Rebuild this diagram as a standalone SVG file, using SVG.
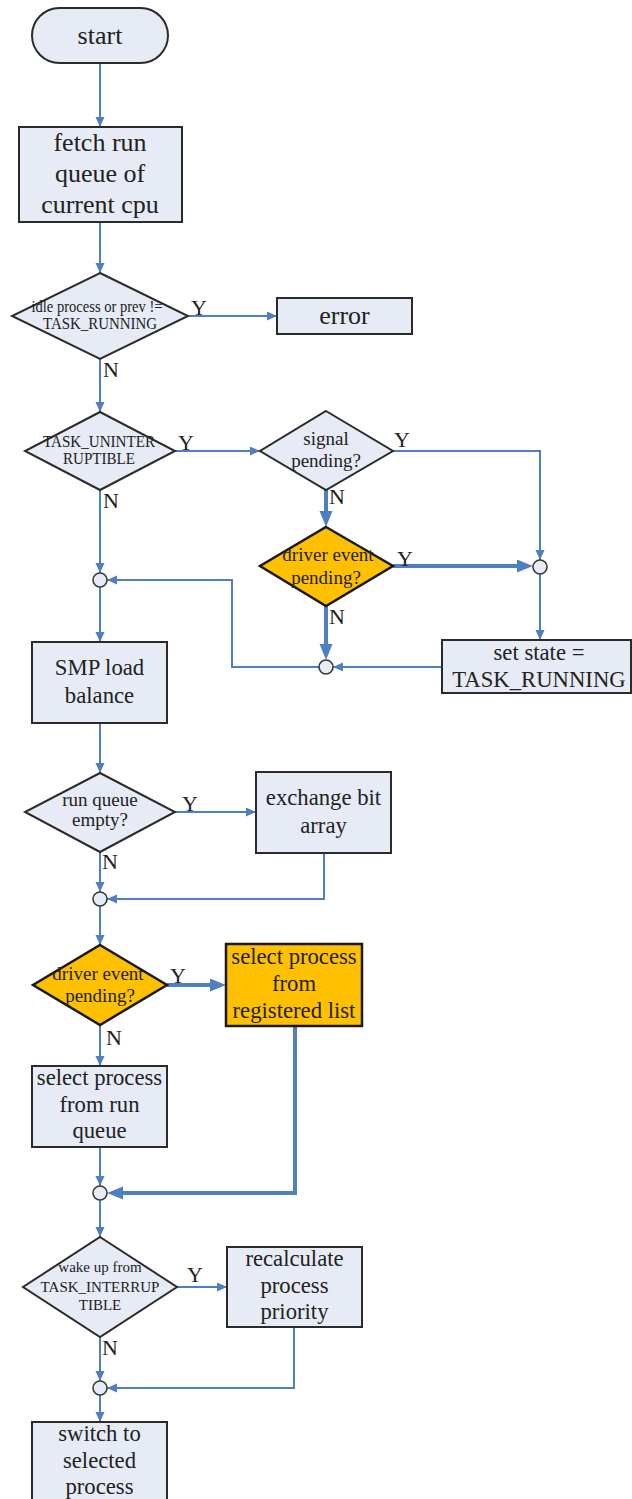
<svg xmlns="http://www.w3.org/2000/svg" width="632" height="1499" viewBox="0 0 632 1499">
  <style>
    .box { fill: #e6ebf5; stroke: #2b2b2b; stroke-width: 2; }
    .hot { fill: #ffc000; stroke: #1a1a1a; stroke-width: 2.5; }
    .join { fill: #e6ebf5; stroke: #3a3a3a; stroke-width: 1.6; }
    .t { font-family: "Liberation Serif", "Times New Roman", serif; fill: #222; text-anchor: middle; }
    .big { font-size: 26px; }
    .mid { font-size: 22.7px; }
    .dia { font-size: 19px; }
    .sm { font-size: 16px; }
    .xs { font-size: 15px; }
    .lab { font-family: "Liberation Serif", "Times New Roman", serif; fill: #222; font-size: 22px; }
    .wire { fill: none; stroke: #4f7fc0; stroke-width: 2; }
    .wire-b { fill: none; stroke: #4f7fc0; stroke-width: 4; }
  </style>
  <defs>
    <marker id="ah" markerUnits="userSpaceOnUse" markerWidth="11" markerHeight="10" refX="10" refY="4.5" orient="auto">
      <path d="M0,0 L10,4.5 L0,9 z" fill="#4f7fc0"/>
    </marker>
    <marker id="ahb" markerUnits="userSpaceOnUse" markerWidth="17" markerHeight="14" refX="10" refY="6.5" orient="auto">
      <path d="M0,0 L16,6.5 L0,13 z" fill="#4f7fc0"/>
    </marker>
  </defs>

  <rect width="632" height="1499" fill="#ffffff"/>

  <!-- connectors -->
  <g id="connectors">
    <path class="wire" d="M100,63 V127" marker-end="url(#ah)"/>
    <path class="wire" d="M100,222 V273" marker-end="url(#ah)"/>
    <path class="wire" d="M188,316 H277" marker-end="url(#ah)"/>
    <path class="wire" d="M100,359 V412" marker-end="url(#ah)"/>
    <path class="wire" d="M175,451 H260" marker-end="url(#ah)"/>
    <path class="wire" d="M393,451 H540 V560" marker-end="url(#ah)"/>
    <path class="wire-b" d="M326,490 V521" marker-end="url(#ahb)"/>
    <path class="wire-b" d="M393,566 H527" marker-end="url(#ahb)"/>
    <path class="wire" d="M540,574 V640" marker-end="url(#ah)"/>
    <path class="wire-b" d="M326,606 V654" marker-end="url(#ahb)"/>
    <path class="wire" d="M442,667 H333" marker-end="url(#ah)"/>
    <path class="wire" d="M319,667 H232 V580 H107" marker-end="url(#ah)"/>
    <path class="wire" d="M100,490 V573" marker-end="url(#ah)"/>
    <path class="wire" d="M100,587 V642" marker-end="url(#ah)"/>
    <path class="wire" d="M100,723 V773" marker-end="url(#ah)"/>
    <path class="wire" d="M175,812 H256" marker-end="url(#ah)"/>
    <path class="wire" d="M100,852 V892" marker-end="url(#ah)"/>
    <path class="wire" d="M324,853 V899 H107" marker-end="url(#ah)"/>
    <path class="wire" d="M100,906 V945" marker-end="url(#ah)"/>
    <path class="wire-b" d="M167,985 H220" marker-end="url(#ahb)"/>
    <path class="wire" d="M100,1025 V1066" marker-end="url(#ah)"/>
    <path class="wire" d="M100,1147 V1186" marker-end="url(#ah)"/>
    <path class="wire-b" d="M295,1026 V1193 H113" marker-end="url(#ahb)"/>
    <path class="wire" d="M100,1200 V1237" marker-end="url(#ah)"/>
    <path class="wire" d="M177,1287 H227" marker-end="url(#ah)"/>
    <path class="wire" d="M100,1337 V1381" marker-end="url(#ah)"/>
    <path class="wire" d="M294,1327 V1388 H107" marker-end="url(#ah)"/>
    <path class="wire" d="M100,1395 V1422" marker-end="url(#ah)"/>
  </g>

  <!-- junction points -->
  <g id="joins">
    <circle class="join" cx="540" cy="567" r="7"/>
    <circle class="join" cx="326" cy="667" r="7"/>
    <circle class="join" cx="100" cy="580" r="7"/>
    <circle class="join" cx="100" cy="899" r="7"/>
    <circle class="join" cx="100" cy="1193" r="7"/>
    <circle class="join" cx="100" cy="1388" r="7"/>
  </g>

  <g id="start">
    <rect class="box" x="32" y="8" width="136" height="55" rx="27.5"/>
    <text class="t big" x="100" y="44">start</text>
  </g>

  <g id="fetch">
    <rect class="box" x="19" y="127" width="163" height="95"/>
    <text class="t big" x="100" y="151">fetch run</text>
    <text class="t big" x="100" y="182">queue of</text>
    <text class="t big" x="100" y="213">current cpu</text>
  </g>

  <g id="check-idle">
    <polygon class="box" points="100,273 188,316 100,359 12,316"/>
    <text class="t sm" x="97" y="312" textLength="131" lengthAdjust="spacingAndGlyphs">idle process or prev !=</text>
    <text class="t sm" x="100" y="329" textLength="114" lengthAdjust="spacingAndGlyphs">TASK_RUNNING</text>
    <text class="lab" x="191" y="315">Y</text>
    <text class="lab" x="103" y="377">N</text>
  </g>

  <g id="error">
    <rect class="box" x="277" y="298" width="135" height="36"/>
    <text class="t big" x="344.5" y="324">error</text>
  </g>

  <g id="check-unint">
    <polygon class="box" points="100,412 175,451 100,490 25,451"/>
    <text class="t sm" x="99" y="447" textLength="112" lengthAdjust="spacingAndGlyphs">TASK_UNINTER</text>
    <text class="t sm" x="99" y="464" textLength="72" lengthAdjust="spacingAndGlyphs">RUPTIBLE</text>
    <text class="lab" x="178" y="450">Y</text>
    <text class="lab" x="103" y="508">N</text>
  </g>

  <g id="signal">
    <polygon class="box" points="326,411 393,451 326,490 260,451"/>
    <text class="t dia" x="326" y="445">signal</text>
    <text class="t dia" x="326" y="467">pending?</text>
    <text class="lab" x="394" y="447">Y</text>
    <text class="lab" x="329" y="504">N</text>
  </g>

  <g id="driver-event-1">
    <polygon class="hot" points="326,527 393,566 326,606 260,566"/>
    <text class="t dia" x="328" y="561">driver event</text>
    <text class="t dia" x="326" y="584">pending?</text>
    <text class="lab" x="397" y="566">Y</text>
    <text class="lab" x="329" y="624">N</text>
  </g>

  <g id="set-state">
    <rect class="box" x="442" y="640" width="189" height="53"/>
    <text class="t mid" x="539" y="660">set state =</text>
    <text class="t mid" x="539" y="687">TASK_RUNNING</text>
  </g>

  <g id="smp">
    <rect class="box" x="32" y="642" width="135" height="81"/>
    <text class="t mid" x="99.5" y="675">SMP load</text>
    <text class="t mid" x="99.5" y="703">balance</text>
  </g>

  <g id="queue-empty">
    <polygon class="box" points="100,773 175,812 100,852 25,812"/>
    <text class="t dia" x="100" y="806">run queue</text>
    <text class="t dia" x="100" y="826">empty?</text>
    <text class="lab" x="182" y="811">Y</text>
    <text class="lab" x="102" y="869">N</text>
  </g>

  <g id="exchange">
    <rect class="box" x="256" y="772" width="135" height="81"/>
    <text class="t mid" x="323.5" y="805">exchange bit</text>
    <text class="t mid" x="323.5" y="833">array</text>
  </g>

  <g id="driver-event-2">
    <polygon class="hot" points="100,945 167,985 100,1025 33,985"/>
    <text class="t dia" x="98" y="980">driver event</text>
    <text class="t dia" x="100" y="1002">pending?</text>
    <text class="lab" x="170" y="983">Y</text>
    <text class="lab" x="106" y="1045">N</text>
  </g>

  <g id="select-registered">
    <rect class="hot" x="226" y="944" width="136" height="82"/>
    <text class="t mid" x="294" y="964">select process</text>
    <text class="t mid" x="294" y="991">from</text>
    <text class="t mid" x="294" y="1018">registered list</text>
  </g>

  <g id="select-runqueue">
    <rect class="box" x="32" y="1066" width="135" height="81"/>
    <text class="t mid" x="99.5" y="1085">select process</text>
    <text class="t mid" x="99.5" y="1112">from run</text>
    <text class="t mid" x="99.5" y="1138">queue</text>
  </g>

  <g id="wake-up">
    <polygon class="box" points="100,1237 177,1287 100,1337 23,1287"/>
    <text class="t xs" x="100" y="1272">wake up from</text>
    <text class="t xs" x="100" y="1292">TASK_INTERRUP</text>
    <text class="t xs" x="100" y="1310">TIBLE</text>
    <text class="lab" x="187" y="1282">Y</text>
    <text class="lab" x="102" y="1355">N</text>
  </g>

  <g id="recalc">
    <rect class="box" x="227" y="1247" width="135" height="80"/>
    <text class="t mid" x="294.5" y="1266">recalculate</text>
    <text class="t mid" x="294.5" y="1293">process</text>
    <text class="t mid" x="294.5" y="1319">priority</text>
  </g>

  <g id="switch">
    <rect class="box" x="32" y="1422" width="135" height="95"/>
    <text class="t mid" x="99.5" y="1441">switch to</text>
    <text class="t mid" x="99.5" y="1468">selected</text>
    <text class="t mid" x="99.5" y="1494">process</text>
  </g>
</svg>
